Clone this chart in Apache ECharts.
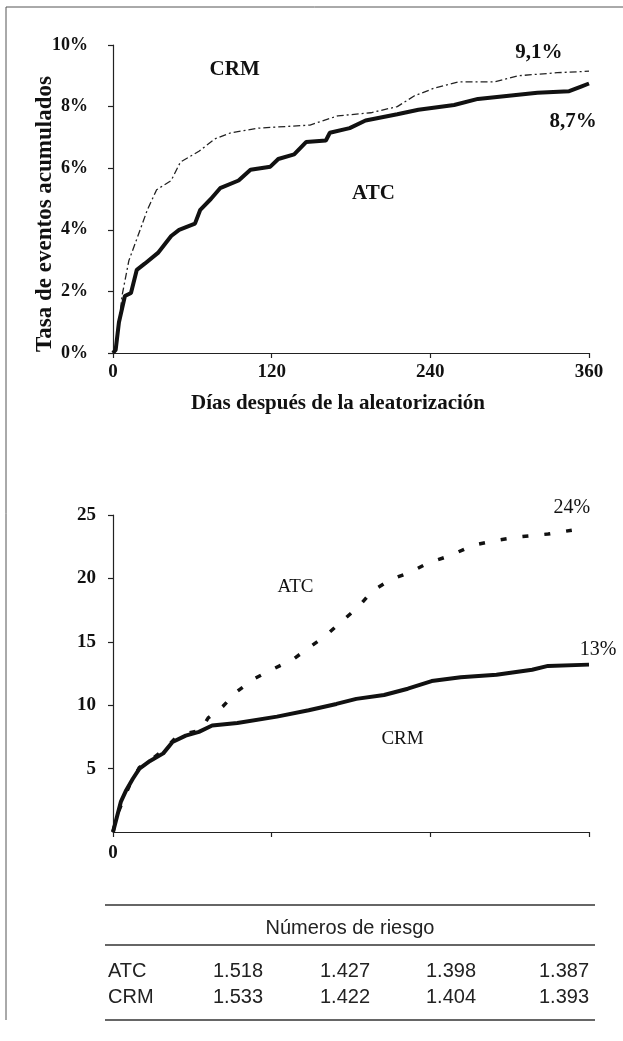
<!DOCTYPE html>
<html><head><meta charset="utf-8">
<script src="https://cdn.jsdelivr.net/npm/echarts/dist/echarts.min.js"></script>
<style>html,body{margin:0;padding:0;background:#fff}#c{width:623px;height:1041px}</style>
</head><body><div id="c"></div><script>
// ---- Top chart (cumulative event rate, %) ----
const topTicksX = [0, 120, 240, 360];
const topCRMDays = [0, 2, 7, 12, 18, 26, 33, 44, 51, 65, 77, 89, 110, 149, 170, 195, 215, 228, 243, 261, 288, 306, 336, 360];
const topCRMVals = [0, 0.1, 1.9, 3.0, 3.7, 4.65, 5.3, 5.6, 6.2, 6.55, 6.95, 7.15, 7.3, 7.4, 7.7, 7.8, 8.0, 8.35, 8.6, 8.8, 8.8, 9.0, 9.1, 9.15];
const topATCDays = [0, 2, 4.5, 9, 13.6, 18, 24, 34, 44, 50, 62, 66, 74, 81, 95, 104, 119, 125, 137, 146, 161, 164, 179, 191, 215, 231, 258, 276, 321, 345, 354, 360];
const topATCVals = [0, 0.1, 1.0, 1.85, 1.95, 2.7, 2.9, 3.25, 3.8, 4.0, 4.2, 4.65, 5.0, 5.35, 5.6, 5.95, 6.05, 6.3, 6.45, 6.85, 6.9, 7.15, 7.3, 7.55, 7.75, 7.9, 8.05, 8.25, 8.45, 8.5, 8.65, 8.75];
const topEndLabels = ['9,1%', '8,7%'];
// ---- Bottom chart ----
const botATCDays = [0, 3, 8, 13, 20, 30, 40, 47, 57, 66, 72, 83, 94, 107, 122, 136, 149, 161, 174, 186, 196, 210, 225, 238, 255, 272, 290, 309, 329, 347];
const botATCVals = [0, 1.3, 2.6, 3.8, 5.1, 5.8, 6.6, 7.4, 7.8, 8.0, 9.0, 9.9, 11.1, 12.1, 12.9, 13.6, 14.6, 15.5, 16.7, 17.8, 19.0, 19.9, 20.5, 21.2, 21.8, 22.6, 23.0, 23.3, 23.5, 23.8];
const botCRMDays = [0, 3, 6, 10, 15, 20, 28, 38, 45, 55, 65, 75, 94, 124, 148, 169, 184, 205, 223, 241, 263, 290, 317, 329, 360];
const botCRMVals = [0, 1.2, 2.4, 3.3, 4.2, 5.0, 5.6, 6.2, 7.1, 7.6, 7.9, 8.4, 8.6, 9.1, 9.6, 10.1, 10.5, 10.8, 11.3, 11.9, 12.2, 12.4, 12.8, 13.1, 13.2];
const botEndLabels = ['24%', '13%'];
// ---- Risk table ----
const riskTitle = 'Números de riesgo';
const riskGroups = ['ATC', 'CRM'];
const riskATC = ['1.518', '1.427', '1.398', '1.387'];
const riskCRM = ['1.533', '1.422', '1.404', '1.393'];

const zip = (a, b) => a.map((d, i) => [d, b[i]]);
const SERIF = '"Liberation Serif", "Times New Roman", serif';
const SANS = '"Liberation Sans", Arial, sans-serif';
const INK = '#111';

function note(text, coord, size, weight, offset) {
  return {
    coord: coord, symbol: 'circle', symbolSize: 0,
    label: { show: true, position: 'inside', formatter: text, offset: offset || [0, 0],
      fontFamily: SERIF, fontSize: size, fontWeight: weight, color: INK }
  };
}
function mp(items) { return { silent: true, animation: false, data: items }; }

const chart = echarts.init(document.getElementById('c'), null, { renderer: 'canvas' });

const axisLine = { show: true, lineStyle: { color: '#222', width: 1.2 } };
const tick = { show: true, inside: false, length: 5, lineStyle: { color: '#222', width: 1.2 } };

// table graphics
const tableG = [];
const ruleY = [905, 945, 1020];
ruleY.forEach(y => tableG.push({ type: 'line', shape: { x1: 105, y1: y, x2: 595, y2: y }, style: { stroke: '#333', lineWidth: 1.5 } }));
tableG.push({ type: 'text', x: 350, y: 928, style: { text: riskTitle, font: '20px ' + SANS, fill: '#222', align: 'center', verticalAlign: 'middle' } });
const colX = [238, 345, 451, 564];
[riskATC, riskCRM].forEach((row, r) => {
  const y = 971 + r * 26;
  tableG.push({ type: 'text', x: 108, y: y, style: { text: riskGroups[r], font: '20px ' + SANS, fill: '#222', align: 'left', verticalAlign: 'middle' } });
  row.forEach((v, c) => tableG.push({ type: 'text', x: colX[c], y: y, style: { text: v, font: '20px ' + SANS, fill: '#222', align: 'center', verticalAlign: 'middle' } }));
});

const option = {
  backgroundColor: '#fff',
  animation: false,
  grid: [
    { left: 113, right: 34, top: 45, bottom: 1041 - 353 },
    { left: 113, right: 34, top: 515, bottom: 1041 - 832 }
  ],
  xAxis: [
    { gridIndex: 0, type: 'value', min: 0, max: 360, interval: 120,
      axisLine: axisLine, axisTick: tick, splitLine: { show: false },
      axisLabel: { margin: 10, fontFamily: SERIF, fontSize: 19, fontWeight: 'bold', color: INK } },
    { gridIndex: 1, type: 'value', min: 0, max: 360, interval: 120,
      axisLine: axisLine, axisTick: tick, splitLine: { show: false },
      axisLabel: { margin: 12, fontFamily: SERIF, fontSize: 19, fontWeight: 'bold', color: INK,
        formatter: v => (v === 0 ? '0' : '') } }
  ],
  yAxis: [
    { gridIndex: 0, type: 'value', min: 0, max: 10, interval: 2,
      axisLine: axisLine, axisTick: tick, splitLine: { show: false },
      axisLabel: { margin: 25, fontFamily: SERIF, fontSize: 18, fontWeight: 'bold', color: INK, formatter: '{value}%' } },
    { gridIndex: 1, type: 'value', min: 0, max: 25, interval: 5,
      axisLine: axisLine, axisTick: tick, splitLine: { show: false },
      axisLabel: { margin: 17, fontFamily: SERIF, fontSize: 19, fontWeight: 'bold', color: INK, showMinLabel: false } }
  ],
  series: [
    { name: 'CRM', type: 'line', xAxisIndex: 0, yAxisIndex: 0, data: zip(topCRMDays, topCRMVals),
      showSymbol: false, smooth: false, lineStyle: { color: '#222', width: 1.3, type: [7, 3, 2, 3] },
      markPoint: mp([note('CRM', [92, 9.19], 21, 'bold'), note(topEndLabels[0], [322, 9.74], 21, 'bold')]) },
    { name: 'ATC', type: 'line', xAxisIndex: 0, yAxisIndex: 0, data: zip(topATCDays, topATCVals),
      showSymbol: false, lineStyle: { color: INK, width: 4 },
      markPoint: mp([note('ATC', [197, 5.19], 21, 'bold'), note(topEndLabels[1], [348, 7.5], 21, 'bold')]) },
    { name: 'ATC2', type: 'line', xAxisIndex: 1, yAxisIndex: 1, data: zip(botATCDays, botATCVals),
      showSymbol: false, lineStyle: { color: INK, width: 3.5, type: [6, 16] },
      markPoint: mp([note('ATC', [138, 19.3], 19, 'normal'), note(botEndLabels[0], [347, 25], 20, 'normal', [0, -7])]) },
    { name: 'CRM2', type: 'line', xAxisIndex: 1, yAxisIndex: 1, data: zip(botCRMDays, botCRMVals),
      showSymbol: false, lineStyle: { color: INK, width: 4 },
      markPoint: mp([note('CRM', [219, 7.3], 19, 'normal'), note(botEndLabels[1], [360, 14.4], 20, 'normal', [9, 0])]) }
  ],
  graphic: [
    { type: 'line', shape: { x1: 6, y1: 7, x2: 623, y2: 7 }, style: { stroke: '#555', lineWidth: 1 } },
    { type: 'line', shape: { x1: 6, y1: 7, x2: 6, y2: 1020 }, style: { stroke: '#555', lineWidth: 1 } },
    { type: 'text', x: 45, y: 214, rotation: Math.PI / 2,
      style: { text: 'Tasa de eventos acumulados', font: 'bold 23px ' + SERIF, fill: INK, align: 'center', verticalAlign: 'middle' } },
    { type: 'text', x: 338, y: 404,
      style: { text: 'Días después de la aleatorización', font: 'bold 21px ' + SERIF, fill: INK, align: 'center', verticalAlign: 'middle' } }
  ].concat(tableG)
};
chart.setOption(option);
</script></body></html>
